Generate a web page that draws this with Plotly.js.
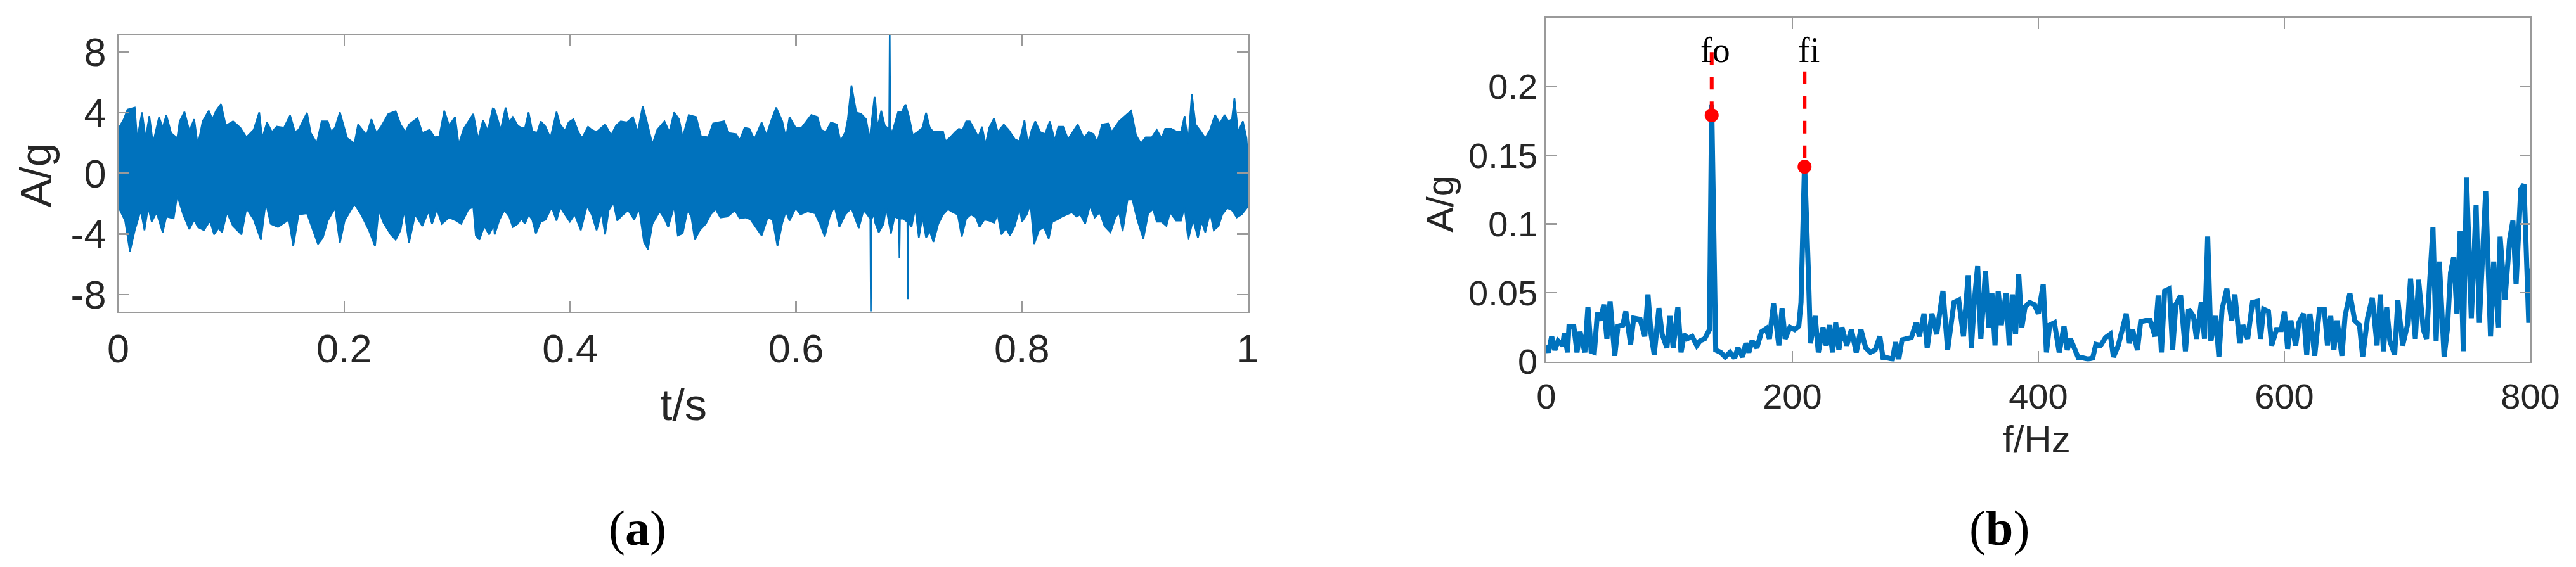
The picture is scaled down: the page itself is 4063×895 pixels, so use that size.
<!DOCTYPE html>
<html>
<head>
<meta charset="utf-8">
<script src="https://cdn.plot.ly/plotly-3.0.1.min.js"></script>
<style>html,body{margin:0;padding:0;background:#fff}#plot{width:4063px;height:895px}</style>
</head>
<body>
<div id="plot"></div>
<script>
// (a) time signal, read as upper / lower envelope of the trace: [t (s), A (g)]
var upperEnv = [
  [0,2.45],[0.0006,3.01],[0.0049,3.57],[0.0081,4.20],[0.0113,4.27],[0.0146,4.34],[0.0167,2.25],[0.0210,4.02],[0.0242,2.32],[0.0275,3.78],
  [0.0307,1.97],[0.0361,3.71],[0.0393,3.01],[0.0425,3.85],[0.0468,2.66],[0.0522,2.32],[0.0543,3.43],[0.0586,4.06],[0.0629,2.80],[0.0672,3.57],
  [0.0704,1.83],[0.0747,3.43],[0.0801,4.13],[0.0833,3.57],[0.0866,4.13],[0.0909,4.57],[0.0952,3.15],[0.1016,3.43],[0.1080,3.01],[0.1134,2.38],
  [0.1199,2.87],[0.1248,4.02],[0.1274,2.32],[0.1317,3.36],[0.1360,2.73],[0.1403,3.08],[0.1467,3.01],[0.1521,3.82],[0.1564,2.73],[0.1596,2.87],
  [0.1671,3.99],[0.1704,2.66],[0.1757,1.97],[0.1800,3.43],[0.1854,3.43],[0.1886,2.73],[0.1919,3.01],[0.1962,4.02],[0.2026,2.32],[0.2091,1.97],
  [0.2123,3.22],[0.2166,2.80],[0.2198,2.52],[0.2241,3.57],[0.2284,2.66],[0.2327,3.08],[0.2391,3.92],[0.2456,4.10],[0.2499,3.22],[0.2542,2.73],
  [0.2574,3.22],[0.2649,3.64],[0.2692,2.66],[0.2757,2.87],[0.2800,2.38],[0.2843,2.45],[0.2886,4.13],[0.2929,3.15],[0.2982,3.71],[0.3014,1.90],
  [0.3058,2.94],[0.3143,3.92],[0.3186,2.25],[0.3229,3.50],[0.3272,2.80],[0.3315,4.27],
  [0.3332,4.20],[0.3353,3.71],[0.3386,2.87],[0.3429,4.34],[0.3461,3.36],[0.3493,3.71],[0.3536,3.15],[0.3568,3.01],[0.3601,3.01],[0.3633,4.02],
  [0.3665,2.80],[0.3708,2.66],[0.3740,3.43],[0.3783,3.08],[0.3826,2.32],[0.3880,4.06],[0.3912,3.22],[0.3955,2.80],[0.3987,3.36],[0.4030,3.57],
  [0.4073,2.73],[0.4106,2.32],[0.4159,3.08],[0.4192,2.87],[0.4235,2.73],[0.4310,3.22],[0.4364,2.52],[0.4407,3.15],[0.4449,3.43],[0.4503,3.36],
  [0.4557,3.71],[0.4600,2.73],[0.4643,4.44],[0.4675,3.57],[0.4729,1.90],[0.4772,2.87],[0.4836,3.43],[0.4879,2.73],[0.4922,4.02],[0.4965,3.57],
  [0.4997,2.38],[0.5051,3.85],[0.5116,3.71],[0.5159,2.45],[0.5223,2.38],[0.5266,3.29],[0.5309,3.36],[0.5363,3.43],[0.5406,2.66],[0.5470,2.59],
  [0.5502,2.18],[0.5545,3.01],[0.5588,2.94],[0.5631,2.25],[0.5696,3.36],[0.5739,2.52],[0.5782,3.50],[0.5825,4.34],[0.5879,3.43],[0.5911,2.32],
  [0.5943,3.71],[0.5997,3.01],[0.6050,3.01],[0.6094,3.43],[0.6136,3.85],[0.6190,3.71],[0.6222,2.87],[0.6266,2.73],[0.6309,3.36],[0.6362,3.22],
  [0.6394,2.11],[0.6437,2.73],[0.6459,3.57],[0.6491,5.80],[0.6534,4.02],[0.6577,3.92],[0.6620,3.57],[0.6652,2.25],[0.6695,5.03],
  [0.6701,4.97],[0.6722,3.01],[0.6755,4.13],[0.6787,3.15],[0.6808,3.01],[0.6825,3.0],[0.6830,9.6],[0.6835,3.0],[0.6851,2.66],[0.6905,4.06],
  [0.6937,4.06],[0.6970,4.55],[0.7002,3.71],[0.7034,2.52],[0.7077,2.73],[0.7120,3.01],[0.7152,3.99],[0.7185,3.01],[0.7217,2.73],[0.7260,2.73],
  [0.7303,2.73],[0.7324,2.11],[0.7367,2.38],[0.7410,2.73],[0.7442,2.94],[0.7475,2.87],[0.7507,3.43],[0.7539,3.43],[0.7582,2.87],[0.7614,2.38],
  [0.7647,3.08],[0.7679,1.90],[0.7711,3.01],[0.7754,3.64],[0.7786,2.73],[0.7840,3.22],[0.7883,2.87],[0.7937,2.25],[0.7980,2.11],[0.8023,3.50],
  [0.8055,1.90],[0.8087,2.87],[0.8119,3.43],[0.8162,2.73],[0.8205,2.59],[0.8248,3.43],[0.8291,2.18],[0.8323,3.08],[0.8366,3.08],[0.8409,2.25],
  [0.8452,2.73],[0.8495,3.22],[0.8549,2.32],[0.8592,2.73],[0.8635,2.59],[0.8667,2.04],[0.8710,3.22],[0.8764,3.29],[0.8796,2.73],[0.8828,3.08],
  [0.8861,3.43],[0.8914,3.78],[0.8968,4.13],[0.9011,2.52],[0.9054,1.97],[0.9097,2.38],[0.9151,2.38],[0.9194,2.87],[0.9237,2.32],[0.9269,2.94],
  [0.9323,2.94],[0.9377,2.73],[0.9409,2.73],[0.9441,3.78],[0.9473,1.97],[0.9505,5.24],[0.9538,3.22],[0.9581,2.80],[0.9624,2.32],[0.9667,2.87],
  [0.9710,3.85],[0.9753,3.29],[0.9796,3.85],[0.9828,3.43],[0.9860,3.57],[0.9882,4.97],[0.9914,2.73],[0.9957,3.43],[0.9989,2.32],[1.0,1.20]
];
var lowerEnv = [
  [0,-1.03],[0.0006,-2.29],[0.0060,-3.12],[0.0103,-5.15],[0.0146,-3.75],[0.0199,-2.43],[0.0232,-3.75],[0.0264,-2.22],[0.0296,-3.19],[0.0339,-2.57],
  [0.0393,-3.89],[0.0425,-2.85],[0.0490,-2.98],[0.0522,-1.45],[0.0575,-2.71],[0.0629,-3.68],[0.0672,-3.05],[0.0704,-3.54],[0.0758,-3.75],[0.0812,-3.12],
  [0.0848,-4.03],[0.0887,-3.61],[0.0919,-3.89],[0.0962,-2.57],[0.1016,-3.47],[0.1091,-4.03],[0.1134,-2.29],[0.1199,-3.05],[0.1263,-4.38],[0.1306,-1.87],
  [0.1349,-3.33],[0.1414,-3.54],[0.1446,-3.40],[0.1510,-3.05],[0.1549,-4.80],[0.1596,-2.71],[0.1671,-2.64],[0.1714,-3.54],[0.1768,-4.66],[0.1811,-4.24],
  [0.1854,-3.12],[0.1919,-2.29],[0.1962,-4.59],[0.2004,-3.12],[0.2091,-2.01],[0.2155,-2.78],[0.2219,-3.75],[0.2273,-4.80],[0.2305,-2.43],[0.2348,-3.26],
  [0.2413,-4.03],[0.2456,-4.38],[0.2499,-3.75],[0.2531,-2.43],[0.2574,-4.59],[0.2628,-2.71],[0.2692,-3.47],[0.2746,-2.50],[0.2778,-3.33],[0.2821,-2.36],
  [0.2864,-3.33],[0.2929,-2.91],[0.2993,-3.12],[0.3036,-3.33],[0.3100,-2.36],[0.3143,-2.22],[0.3165,-4.10],[0.3197,-4.38],[0.3240,-3.47],[0.3283,-4.03],
  [0.3326,-3.40],
  [0.3332,-4.03],[0.3375,-3.05],[0.3418,-2.43],[0.3461,-2.85],[0.3493,-3.54],[0.3536,-3.33],[0.3568,-2.98],[0.3601,-3.33],[0.3633,-2.71],[0.3665,-3.05],
  [0.3697,-3.96],[0.3740,-3.19],[0.3783,-3.05],[0.3837,-2.22],[0.3880,-3.12],[0.3912,-2.22],[0.3955,-2.71],[0.3998,-3.19],[0.4041,-2.71],[0.4095,-3.75],
  [0.4149,-2.15],[0.4192,-2.71],[0.4235,-3.75],[0.4278,-2.57],[0.4310,-4.03],[0.4342,-2.43],[0.4385,-1.94],[0.4417,-3.12],[0.4460,-2.78],[0.4514,-2.43],
  [0.4568,-3.05],[0.4611,-2.29],[0.4654,-4.52],[0.4690,-5.01],[0.4729,-3.33],[0.4793,-2.50],[0.4836,-2.98],[0.4869,-3.54],[0.4922,-2.15],[0.4954,-4.10],
  [0.4997,-3.96],[0.5040,-2.43],[0.5073,-2.85],[0.5105,-4.38],[0.5148,-3.75],[0.5202,-3.33],[0.5245,-2.71],[0.5288,-2.36],[0.5331,-2.91],[0.5395,-2.85],
  [0.5460,-2.43],[0.5502,-2.98],[0.5556,-2.91],[0.5599,-3.05],[0.5642,-3.54],[0.5696,-4.10],[0.5750,-2.91],[0.5793,-3.05],[0.5836,-4.80],[0.5879,-3.26],
  [0.5911,-2.50],[0.5943,-3.12],[0.5997,-2.29],[0.6040,-2.71],[0.6104,-2.50],[0.6169,-2.64],[0.6212,-3.33],[0.6255,-4.17],[0.6298,-2.85],[0.6341,-2.15],
  [0.6384,-3.54],[0.6437,-2.71],[0.6491,-2.29],[0.6556,-3.61],[0.6598,-2.43],[0.6631,-2.71],[0.6658,-3.0],[0.6663,-9.6],[0.6668,-3.0],[0.6695,-2.71],
  [0.6701,-3.26],[0.6733,-3.89],[0.6776,-3.33],[0.6798,-2.22],[0.6841,-3.96],[0.6873,-2.85],[0.6911,-3.0],[0.6916,-5.57],[0.6921,-3.0],[0.6948,-2.98],
  [0.6986,-3.2],[0.6991,-8.30],[0.6996,-3.2],[0.7023,-3.54],[0.7056,-2.29],[0.7088,-4.24],[0.7120,-2.85],[0.7152,-4.24],[0.7185,-3.82],[0.7217,-4.52],
  [0.7260,-3.33],[0.7303,-2.71],[0.7346,-2.36],[0.7389,-2.57],[0.7432,-2.71],[0.7468,-4.17],[0.7507,-2.98],[0.7550,-2.71],[0.7593,-2.91],[0.7625,-3.54],
  [0.7668,-3.05],[0.7711,-3.12],[0.7754,-3.26],[0.7786,-2.71],[0.7818,-4.03],[0.7861,-3.61],[0.7894,-4.10],[0.7937,-3.47],[0.7980,-2.29],[0.8001,-3.19],
  [0.8044,-2.71],[0.8076,-2.01],[0.8109,-4.66],[0.8152,-3.75],[0.8195,-3.54],[0.8238,-4.31],[0.8270,-3.19],[0.8313,-3.05],[0.8356,-2.85],[0.8399,-2.71],
  [0.8442,-2.57],[0.8485,-2.85],[0.8517,-2.71],[0.8560,-3.33],[0.8603,-2.15],[0.8646,-2.91],[0.8689,-2.57],[0.8732,-3.47],[0.8785,-3.89],[0.8828,-2.91],
  [0.8861,-2.57],[0.8893,-3.82],[0.8936,-1.73],[0.8979,-1.73],[0.9022,-3.05],[0.9076,-4.31],[0.9119,-2.64],[0.9162,-2.36],[0.9194,-3.19],[0.9237,-3.19],
  [0.9280,-3.47],[0.9312,-2.57],[0.9366,-3.12],[0.9409,-3.12],[0.9441,-2.22],[0.9473,-4.38],[0.9516,-3.05],[0.9559,-4.24],[0.9591,-3.19],[0.9624,-3.89],
  [0.9667,-2.57],[0.9699,-3.75],[0.9742,-3.47],[0.9774,-2.71],[0.9817,-2.29],[0.9860,-2.43],[0.9903,-2.91],[0.9946,-2.71],[1.0,-2.2]
];

// (b) envelope spectrum: [f (Hz), A (g)]
var spectrum = [
  [0,0.0116],[1.9,0.0066],[4.4,0.0182],[7.0,0.0083],[9.6,0.0149],[13.4,0.0116],[14.7,0.0206],[17.3,0.0066],[18.5,0.0256],[22.4,0.0256],
  [25.0,0.0066],[27.5,0.0215],[31.4,0.0066],[33.9,0.0396],[36.5,0.0074],[39.1,0.0066],[41.6,0.0355],[44.2,0.0297],[46.8,0.0413],[49.3,0.0165],
  [51.9,0.0437],[55.7,0.0041],[58.3,0.0256],[62.2,0.0264],[64.7,0.0363],[68.6,0.0124],[71.1,0.0314],[76.3,0.0305],[80.1,0.0182],[82.7,0.0487],
  [85.2,0.0198],[87.8,0.0050],[91.6,0.0388],[94.2,0.0198],[98.1,0.0099],[100.6,0.0330],[103.2,0.0099],[107.0,0.0396],[109.6,0.0066],[112.2,0.0198],
  [114.7,0.0165],[118.6,0.0182],[122.4,0.0116],[125.0,0.0149],[128.8,0.0165],[132.7,0.0231],[134.5,0.187],[137.8,0.0083],[141.7,0.0066],[145.5,0.0033],
  [149.4,0.0066],[153.2,0.0025],[155.8,0.0099],[159.6,0.0033],[162.2,0.0132],[164.7,0.0066],[167.3,0.0149],[171.2,0.0099],[175.0,0.0215],[178.9,0.0239],
  [181.4,0.0165],[184.8,0.0421],[189.1,0.0116],[191.7,0.0388],[194.2,0.0165],[198.1,0.0248],[201.9,0.0231],[205.3,0.0256],[207.1,0.0429],[210.0,0.144],
  [213.0,0.0677],[214.8,0.0132],[218.6,0.0330],[221.2,0.0066],[225.0,0.0248],[227.6,0.0116],[230.2,0.0264],[232.7,0.0066],[235.3,0.0281],[237.9,0.0083],
  [240.4,0.0248],[244.3,0.0116],[248.1,0.0231],[252.0,0.0066],[255.8,0.0231],[259.7,0.0099],[263.5,0.0066],[267.4,0.0083],[271.2,0.0182],[273.8,0.0025],
  [277.6,0.0025],[281.5,0.0017],[284.0,0.0140],[286.6,0.0017],[289.2,0.0157],[293.0,0.0165],[296.8,0.0173],[300.7,0.0281],[303.3,0.0182],[307.1,0.0347],
  [309.7,0.0099],[313.5,0.0347],[317.4,0.0198],[319.9,0.0355],[322.5,0.0512],[326.3,0.0083],[328.9,0.0281],[331.5,0.0429],[335.3,0.0446],[339.2,0.0182],
  [343.0,0.0627],[345.6,0.0099],[348.1,0.0446],[350.7,0.0693],[353.3,0.0165],[357.1,0.0660],[359.7,0.0248],[362.3,0.0495],[364.8,0.0116],[367.4,0.0512],
  [369.9,0.0264],[373.8,0.0495],[376.4,0.0116],[378.9,0.0487],[381.5,0.0198],[384.1,0.0635],[386.6,0.0248],[389.2,0.0396],[393.0,0.0429],[396.9,0.0413],
  [400.1,0.0347],[404.0,0.0561],[406.6,0.0066],[409.2,0.0264],[413.1,0.0281],[417.0,0.0066],[420.9,0.0256],[423.5,0.0083],[426.1,0.0165],[430.0,0.0083],
  [432.6,0.0025],[436.5,0.0025],[440.4,0.0017],[444.2,0.0025],[446.8,0.0124],[450.7,0.0116],[454.6,0.0173],[458.5,0.0198],[461.1,0.0033],[465.0,0.0116],
  [468.9,0.0239],[471.5,0.0347],[474.1,0.0132],[476.7,0.0231],[480.6,0.0083],[483.2,0.0289],[487.1,0.0297],[491.0,0.0297],[494.9,0.0182],[497.5,0.0479],
  [500.1,0.0066],[502.7,0.0512],[506.6,0.0528],[509.2,0.0083],[511.8,0.0413],[515.7,0.0479],[519.6,0.0074],[522.2,0.0380],[526.1,0.0330],[528.6,0.0165],
  [532.5,0.0429],[535.1,0.0165],[537.7,0.0908],[540.3,0.0149],[544.2,0.0330],[546.8,0.0033],[549.4,0.0380],[553.3,0.0528],[557.2,0.0297],[559.8,0.0487],
  [563.7,0.0132],[566.3,0.0264],[570.2,0.0165],[574.1,0.0429],[578.0,0.0437],[580.6,0.0165],[583.2,0.0380],[587.1,0.0363],[589.7,0.0116],[593.6,0.0231],
  [597.5,0.0231],[600.1,0.0363],[602.7,0.0091],[605.3,0.0297],[609.2,0.0116],[611.8,0.0281],[615.6,0.0347],[618.2,0.0050],[620.8,0.0347],[624.7,0.0041],
  [628.6,0.0380],[632.5,0.0380],[635.1,0.0116],[637.7,0.0330],[640.3,0.0083],[642.9,0.0297],[646.8,0.0041],[649.4,0.0330],[653.3,0.0495],[657.2,0.0297],
  [661.1,0.0264],[663.7,0.0033],[667.6,0.0314],[671.5,0.0462],[675.4,0.0116],[678.0,0.0487],[680.6,0.0074],[683.2,0.0396],[685.8,0.0149],[689.7,0.0050],
  [692.3,0.0446],[696.2,0.0116],[700.1,0.0264],[702.6,0.0602],[706.5,0.0165],[709.1,0.0594],[713.0,0.0231],[715.6,0.0165],[718.2,0.0586],[720.8,0.0974],
  [723.4,0.0149],[726.0,0.0726],[729.9,0.0033],[732.5,0.0231],[735.1,0.0644],[737.7,0.0759],[740.3,0.0347],[742.9,0.0949],[745.5,0.0074],[748.1,0.1337],
  [752.0,0.0314],[755.9,0.1139],[758.5,0.0281],[763.7,0.1238],[767.6,0.0182],[770.2,0.0726],[774.1,0.0248],[775.4,0.0908],[779.3,0.0446],[783.2,0.0891],
  [785.8,0.1023],[788.4,0.0561],[792.2,0.1254],[794.8,0.1287],[798.7,0.0281],[800,0.0677]
];

// marked fault frequencies
var faultNames = ["fo", "fi"];
var faultFreq = [134.5, 210];
var faultAmp = [0.179, 0.1416];
var faultTop = [0.225, 0.211];
var labelFreq = [137.2, 213.5];

// ticks
var timeTicks = [0, 0.2, 0.4, 0.6, 0.8, 1];
var ampTicks = [-8, -4, 0, 4, 8];
var ampTickText = ["-8", "-4", "0", "4", "8"];
var freqTicks = [0, 200, 400, 600, 800];
var specTicks = [0, 0.05, 0.1, 0.15, 0.2];

var blue = "#0072BD";
var W = 4063, H = 895;

// the signal band: upper envelope forward, lower envelope back
var bandX = upperEnv.map(p => p[0]).concat(lowerEnv.map(p => p[0]).reverse());
var bandY = upperEnv.map(p => p[1]).concat(lowerEnv.map(p => p[1]).reverse());

var traces = [
  {x: bandX, y: bandY, type: "scatter", mode: "lines", fill: "toself", fillcolor: blue,
   line: {color: blue, width: 2.5}, xaxis: "x", yaxis: "y", hoverinfo: "skip"},
  {x: spectrum.map(p => p[0]), y: spectrum.map(p => p[1]), type: "scatter", mode: "lines",
   line: {color: blue, width: 8}, xaxis: "x2", yaxis: "y2"}
];
faultFreq.forEach(function (f, i) {
  traces.push({x: [f, f], y: [faultTop[i], faultAmp[i]], type: "scatter", mode: "lines",
    line: {color: "#ff0000", width: 6, dash: "20px,19px"}, xaxis: "x2", yaxis: "y2"});
});
traces.push({x: faultFreq, y: faultAmp, type: "scatter", mode: "markers",
  marker: {color: "#ff0000", size: 22}, xaxis: "x2", yaxis: "y2"});

function px(x) { return x / W; }
function py(y) { return 1 - y / H; }

var axisBase = {
  showgrid: false, zeroline: false, showline: true, mirror: "ticks",
  linecolor: "#9a9a9a", linewidth: 2.5, ticks: "inside", ticklen: 17,
  tickwidth: 2.5, tickcolor: "#9a9a9a", tickmode: "array"
};
function ax(extra) { return Object.assign({}, axisBase, extra); }

var labelFont = {family: "Liberation Sans, Arial, sans-serif", color: "#262626"};
var serif = "Liberation Serif, Times New Roman, serif";

var layout = {
  width: W, height: H,
  margin: {l: 0, r: 0, t: 0, b: 0},
  paper_bgcolor: "#fff", plot_bgcolor: "#fff",
  showlegend: false,
  xaxis: ax({domain: [px(186.6), px(1968)], range: [0, 1], anchor: "y",
    tickvals: timeTicks, tickfont: Object.assign({size: 63}, labelFont), ticklabelstandoff: 2}),
  yaxis: ax({domain: [py(491.5), py(55.8)], range: [-9.1, 9.1], anchor: "x",
    tickvals: ampTicks, ticktext: ampTickText, tickfont: Object.assign({size: 63}, labelFont), ticklabelstandoff: 4}),
  xaxis2: ax({domain: [px(2438.8), px(3991)], range: [0, 800], anchor: "y2",
    tickvals: freqTicks, tickfont: Object.assign({size: 56}, labelFont), ticklabelstandoff: 5}),
  yaxis2: ax({domain: [py(570.5), py(28)], range: [0, 0.25], anchor: "x2",
    tickvals: specTicks, tickfont: Object.assign({size: 56}, labelFont), ticklabelstandoff: 0}),
  annotations: [
    {text: "A/g", xref: "paper", yref: "paper", x: px(55.8), y: py(276.8), textangle: -90,
     showarrow: false, xanchor: "center", yanchor: "middle", font: Object.assign({size: 68}, labelFont)},
    {text: "t/s", xref: "paper", yref: "paper", x: px(1078), y: py(639),
     showarrow: false, xanchor: "center", yanchor: "middle", font: Object.assign({size: 70}, labelFont)},
    {text: "(<b>a</b>)", xref: "paper", yref: "paper", x: px(1005), y: py(833),
     showarrow: false, xanchor: "center", yanchor: "middle", font: {family: serif, size: 78, color: "#000"}},
    {text: "A/g", xref: "paper", yref: "paper", x: px(2272), y: py(322), textangle: -90,
     showarrow: false, xanchor: "center", yanchor: "middle", font: Object.assign({size: 60}, labelFont)},
    {text: "f/Hz", xref: "paper", yref: "paper", x: px(3212), y: py(693),
     showarrow: false, xanchor: "center", yanchor: "middle", font: Object.assign({size: 60}, labelFont)},
    {text: "(<b>b</b>)", xref: "paper", yref: "paper", x: px(3153), y: py(833),
     showarrow: false, xanchor: "center", yanchor: "middle", font: {family: serif, size: 78, color: "#000"}}
  ]
};
faultNames.forEach(function (name, i) {
  layout.annotations.push({text: name, xref: "x2", yref: "y2", x: labelFreq[i], y: 0.2265,
    showarrow: false, xanchor: "center", yanchor: "middle", font: {family: serif, size: 56, color: "#000"}});
});

Plotly.newPlot("plot", traces, layout, {staticPlot: true});
</script>
</body>
</html>
